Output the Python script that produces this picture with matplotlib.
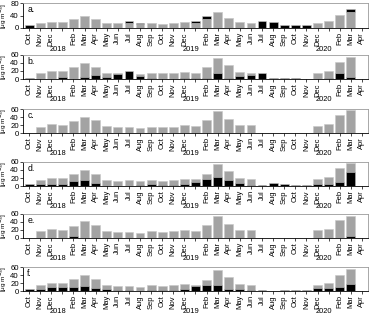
import numpy as np
import matplotlib
matplotlib.use("Agg")
import matplotlib.pyplot as plt

plt.rcParams['font.family'] = ['Liberation Sans', 'DejaVu Sans']

months = ["Oct", "Nov", "Dec", "", "Feb", "Mar", "Apr", "May", "Jun", "Jul", "Aug", "Sep",
          "Oct", "Nov", "Dec", "", "Feb", "Mar", "Apr", "May", "Jun", "Jul", "Aug", "Sep",
          "Oct", "Nov", "Dec", "", "Feb", "Mar", "Apr"]
years = ["2018", "2019", "2020"]
year_pos = [3, 15, 27]
panel_labels = ["a.", "b.", "c.", "d.", "e.", "f."]

# grey (total / base) and black series per panel, Oct 2017 .. Mar 2020
a_grey = [0, 15, 20, 19, 29, 40, 29, 16, 17, 15, 13, 16, 14, 15, 18,
          15, 29, 50, 31, 18, 17, 0, 0, 0, 0, 0, 17, 21, 41, 50]
a_black = [9, 0, 0, 0, 0, 0, 0, 0, 0, 8, 2, 0, 0, 0, 0,
           8, 9, 2, 0, 0, 0, 23, 18, 11, 9, 9, 0, 0, 0, 10]

b_grey = [0, 15, 20, 20, 30, 41, 31, 16, 15, 0, 12, 16, 14, 15, 18,
          16, 30, 52, 34, 18, 16, 0, 0, 0, 0, 1, 16, 21, 43, 54]
b_black = [2, 1, 0, 4, 1, 6, 11, 4, 13, 19, 7, 2, 0, 0, 3,
           3, 3, 15, 2, 7, 11, 14, 3, 2, 2, 0, 0, 3, 16, 6]

c_grey = [0, 16, 22, 20, 31, 41, 32, 17, 14, 15, 12, 16, 15, 16, 19,
          18, 33, 54, 35, 20, 19, 0, 0, 0, 0, 0, 18, 23, 44, 58]
c_black = [0, 0, 0, 0, 0, 0, 0, 0, 0, 0, 0, 0, 0, 0, 0,
           0, 0, 0, 0, 0, 0, 0, 0, 0, 0, 0, 0, 0, 0, 1]

d_grey = [0, 16, 21, 19, 30, 41, 31, 16, 13, 15, 12, 15, 13, 15, 18,
          18, 31, 55, 37, 19, 18, 0, 0, 0, 0, 0, 18, 23, 44, 58]
d_black = [4, 4, 4, 6, 12, 16, 7, 1, 0, 0, 2, 4, 2, 3, 4,
           9, 18, 23, 16, 7, 3, 2, 8, 4, 2, 2, 4, 6, 11, 36]

e_grey = [0, 17, 22, 21, 31, 42, 32, 17, 15, 16, 13, 17, 15, 17, 19,
          18, 32, 54, 36, 21, 20, 1, 1, 1, 1, 1, 19, 22, 45, 56]
e_black = [0, 0, 0, 0, 4, 0, 0, 0, 0, 0, 0, 0, 0, 0, 0,
           0, 0, 0, 0, 0, 0, 0, 0, 0, 0, 0, 0, 0, 0, 4]

f_grey = [0, 15, 20, 19, 29, 39, 30, 16, 12, 13, 11, 15, 12, 14, 17,
          15, 28, 52, 34, 18, 16, 0, 0, 0, 0, 0, 16, 20, 41, 55]
f_black = [4, 6, 9, 10, 11, 12, 7, 5, 2, 3, 1, 2, 2, 3, 6,
           12, 16, 15, 5, 5, 3, 3, 1, 3, 3, 3, 7, 8, 11, 18]

greys = [a_grey, b_grey, c_grey, d_grey, e_grey, f_grey]
blacks = [a_black, b_black, c_black, d_black, e_black, f_black]

W, H = 372, 319
fig = plt.figure(figsize=(W / 100, H / 100), dpi=100)
tops = [3, 55, 109, 162, 214, 267]
heights = [25, 24, 24, 24, 24, 24]
left, right = 23, 368

GREY = "#a3a3a3"
x = np.arange(len(a_grey))
xt = np.arange(len(months))

for i in range(6):
    t, h = tops[i], heights[i]
    ax = fig.add_axes([left / W, 1 - (t + h) / H, (right - left) / W, h / H])
    g = np.array(greys[i])
    b = np.array(blacks[i])
    if i == 0:
        ax.bar(x, g, width=0.8, color=GREY, edgecolor="#c8c8c8", linewidth=0.4)
        ax.bar(x, b, width=0.8, bottom=g, color="black", edgecolor="#c8c8c8", linewidth=0.4)
        ax.set_ylim(0, 80)
        ax.set_yticks([0, 40, 80])
    else:
        ax.bar(x, g, width=0.8, color=GREY, edgecolor="#c8c8c8", linewidth=0.4)
        ax.bar(x, b, width=0.8, color="black", edgecolor="#c8c8c8", linewidth=0.4)
        ax.set_ylim(0, 60)
        ax.set_yticks([0, 20, 40, 60])
    ax.set_xlim(-0.55, 30.55)
    ax.set_xticks(xt)
    ax.set_xticklabels(months, rotation=90, fontsize=5.4)
    ax.tick_params(axis="y", labelsize=5.6, length=2, width=0.5, pad=1)
    ax.tick_params(axis="x", length=2, width=0.5, pad=1)
    for s in ax.spines.values():
        s.set_color("#9a9a9a")
        s.set_linewidth(0.6)
    ax.spines["left"].set_color("black")
    ax.spines["bottom"].set_color("black")
    ax.text(0.012, 0.93, panel_labels[i], transform=ax.transAxes, fontsize=6.2,
            va="top", ha="left")
    ax.set_ylabel("[\u03bcg m$^{-3}$]", fontsize=4.6)
    ax.yaxis.set_label_coords(-(left - 9.0) / (right - left), 0.5)
    for yp, yl in zip(year_pos, years):
        ax.text(yp - 0.4, -0.86, yl, transform=ax.get_xaxis_transform(),
                fontsize=5.4, ha="center", va="center")

fig.savefig("out.png", dpi=100)
